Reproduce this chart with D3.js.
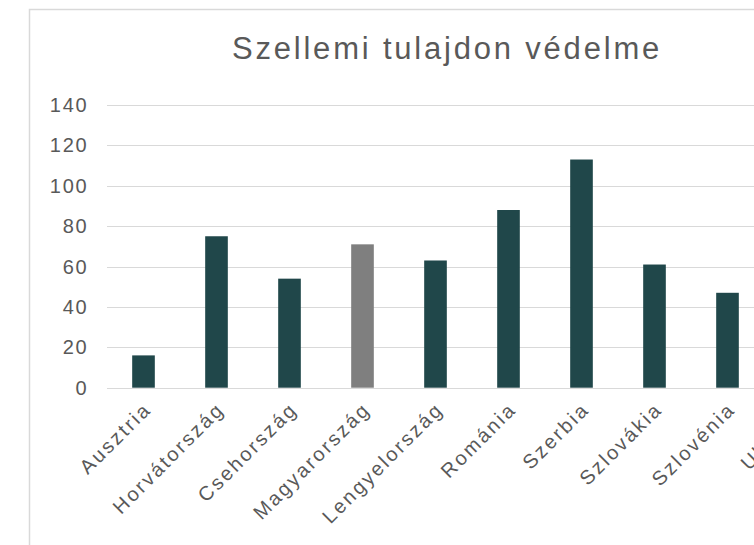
<!DOCTYPE html>
<html>
<head>
<meta charset="utf-8">
<script src="https://cdn.jsdelivr.net/npm/d3@7"></script>
<style>
  body { margin: 0; background: #fff; }
  text { font-family: "Liberation Sans", Arial, sans-serif; fill: #595959; }
</style>
</head>
<body>
<svg id="chart" width="754" height="545"></svg>
<script>
// categories and values
var countries = ["Ausztria", "Horvátország", "Csehország", "Magyarország", "Lengyelország",
                 "Románia", "Szerbia", "Szlovákia", "Szlovénia", "Ukrajna"];
var values = [16, 75, 54, 71, 63, 88, 113, 61, 47, 45];
var yTicks = [0, 20, 40, 60, 80, 100, 120, 140];
var highlight = "Magyarország";

var svg = d3.select("#chart");

// chart frame (runs off the right and bottom of the picture)
svg.append("rect")
    .attr("x", 29.5)
    .attr("y", 9.5)
    .attr("width", 832)
    .attr("height", 600)
    .attr("fill", "#fff")
    .attr("stroke", "#d9d9d9")
    .attr("stroke-width", 1.5);

var plotLeft = 107, plotRight = 837, plotTop = 105, plotBottom = 387.7;

var x = d3.scaleBand()
    .domain(countries)
    .range([plotLeft, plotRight])
    .paddingInner(0.69)
    .paddingOuter(0.345);

var y = d3.scaleLinear()
    .domain([0, 140])
    .range([plotBottom, plotTop]);

// gridlines
svg.append("g")
  .selectAll("line")
    .data(yTicks)
  .enter().append("line")
    .attr("x1", plotLeft)
    .attr("x2", plotRight)
    .attr("y1", function(d) { return Math.round(y(d)) + 0.5; })
    .attr("y2", function(d) { return Math.round(y(d)) + 0.5; })
    .attr("stroke", "#d9d9d9")
    .attr("stroke-width", 1);

// y labels
svg.append("g")
  .selectAll("text")
    .data(yTicks)
  .enter().append("text")
    .attr("x", 88.5)
    .attr("y", function(d) { return y(d); })
    .attr("dy", "0.35em")
    .attr("text-anchor", "end")
    .style("font-size", "20px")
    .style("letter-spacing", "1.8px")
    .text(function(d) { return d; });

// bars
svg.append("g")
  .selectAll("rect")
    .data(values)
  .enter().append("rect")
    .attr("x", function(d, i) { return x(countries[i]); })
    .attr("y", function(d) { return y(d); })
    .attr("width", x.bandwidth())
    .attr("height", function(d) { return plotBottom - y(d); })
    .attr("fill", function(d, i) { return countries[i] === highlight ? "#7f7f7f" : "#20474a"; });

// category labels, rotated
svg.append("g")
  .selectAll("text")
    .data(countries)
  .enter().append("text")
    .attr("transform", function(d) {
      var cx = x(d) + x.bandwidth() / 2;
      return "translate(" + (cx + 9) + "," + (plotBottom + 23) + ") rotate(-45)";
    })
    .attr("text-anchor", "end")
    .style("font-size", "20px")
    .style("letter-spacing", "2.4px")
    .text(function(d) { return d; });

// title
svg.append("text")
    .attr("x", 447)
    .attr("y", 59)
    .attr("text-anchor", "middle")
    .style("font-size", "31px")
    .style("letter-spacing", "2.8px")
    .text("Szellemi tulajdon védelme");
</script>
</body>
</html>
